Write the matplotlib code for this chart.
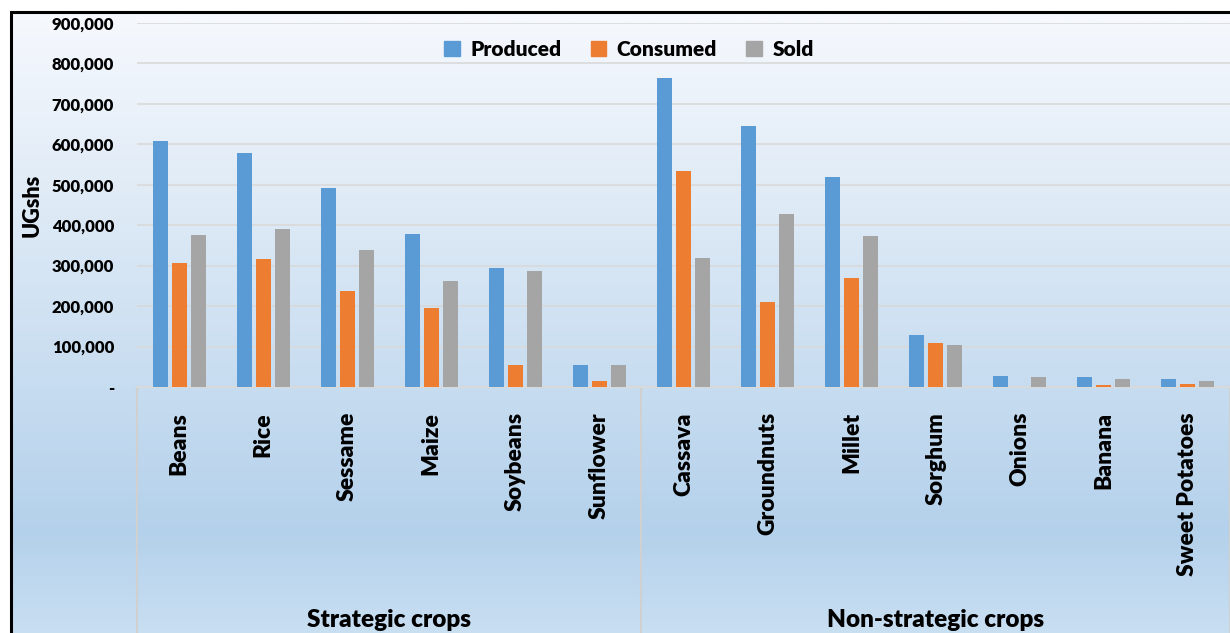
import numpy as np
import matplotlib.pyplot as plt
from matplotlib.patches import Patch

crops = ["Beans", "Rice", "Sessame", "Maize", "Soybeans", "Sunflower",
         "Cassava", "Groundnuts", "Millet", "Sorghum", "Onions", "Banana",
         "Sweet Potatoes"]
produced = [608000, 578000, 492000, 379000, 295000, 55000,
            764000, 645000, 519000, 128000, 27000, 25000, 19000]
consumed = [307000, 317000, 238000, 196000, 55000, 16000,
            534000, 211000, 270000, 109000, 0, 4000, 8000]
sold = [376000, 391000, 339000, 263000, 287000, 55000,
        319000, 428000, 374000, 105000, 25000, 20000, 15000]
groups = ["Strategic crops", "Non-strategic crops"]
group_sizes = [6, 7]
series = ["Produced", "Consumed", "Sold"]
colors = ["#5b9bd5", "#ed7d31", "#a5a5a5"]
yticks = [0, 100000, 200000, 300000, 400000, 500000, 600000, 700000, 800000, 900000]

plt.rcParams["font.family"] = ["Lato", "DejaVu Sans"]
plt.rcParams["font.weight"] = "bold"

W, H = 1230, 633
fig = plt.figure(figsize=(W / 100, H / 100), dpi=100)

# background: vertical blue gradient inside a black frame
bg = fig.add_axes([0, 0, 1, 1], zorder=0)
bg.set_xlim(0, W)
bg.set_ylim(H, 0)
bg.axis("off")
rows = np.arange(H)
stops_y = [11, 200, 530, 633]
r = np.interp(rows, stops_y, [245, 222, 180, 201])
g = np.interp(rows, stops_y, [248, 234, 209, 223])
b = np.interp(rows, stops_y, [253, 246, 235, 242])
grad = np.stack([r, g, b], axis=-1)[:, None, :] / 255.0
bg.imshow(grad, extent=(11, W, H, 11), aspect="auto", interpolation="bilinear")
bg.plot([11, 11, W], [H, 11.5, 11.5], color="black", lw=2.2, solid_joinstyle="miter")

ax = fig.add_axes([137 / W, 246 / H, 1093 / W, 364 / H], zorder=1)
ax.patch.set_alpha(0)

x = np.arange(len(crops))
bw = 0.178
step = 0.226
for i, (vals, c, name) in enumerate(zip([produced, consumed, sold], colors, series)):
    ax.bar(x + (i - 1) * step, vals, width=bw, color=c, label=name, zorder=3)

ax.set_xlim(-0.5, len(crops) - 0.5)
ax.set_ylim(0, 900000)
ax.set_yticks(yticks)
ax.set_yticklabels(["-" if v == 0 else f"{v:,}" for v in yticks],
                   fontsize=12, fontweight="heavy")
ax.tick_params(axis="y", length=0, pad=16.5)
ax.grid(axis="y", color="#d9d9d9", lw=1.2, zorder=0)
for s in ["top", "right", "left"]:
    ax.spines[s].set_visible(False)
ax.spines["bottom"].set_color("#d9d9d9")
ax.spines["bottom"].set_linewidth(1.5)

ax.set_xticks(x)
ax.set_xticklabels(crops, rotation=90, fontsize=16.5, fontweight="heavy", va="top")
ax.tick_params(axis="x", length=0, pad=18)

ax.set_ylabel("UGshs", fontsize=15.5, fontweight="heavy")
ax.yaxis.set_label_coords(-0.086, 0.5)

# grouping lines and labels under the category axis
trans = ax.get_xaxis_transform()
edges = np.concatenate([[0], np.cumsum(group_sizes)]) - 0.5
for e in edges:
    ax.plot([e, e], [0, -0.72], color="#d0d0d0", lw=1.5, transform=trans, clip_on=False)
for gname, lo, hi in zip(groups, edges[:-1], edges[1:]):
    ax.text((lo + hi) / 2, -0.641, gname, transform=trans, ha="center", va="center",
            fontsize=17.5, fontweight="heavy")

handles = [Patch(color=c, label=n) for c, n in zip(colors, series)]
fig.legend(handles=handles, loc="center", bbox_to_anchor=(629 / W, 1 - 49 / H), ncol=3,
           frameon=False, handlelength=0.75, handleheight=0.75,
           handletextpad=0.5, columnspacing=1.4, prop={"weight": "heavy", "size": 15})

fig.savefig("out.png", dpi=100)
